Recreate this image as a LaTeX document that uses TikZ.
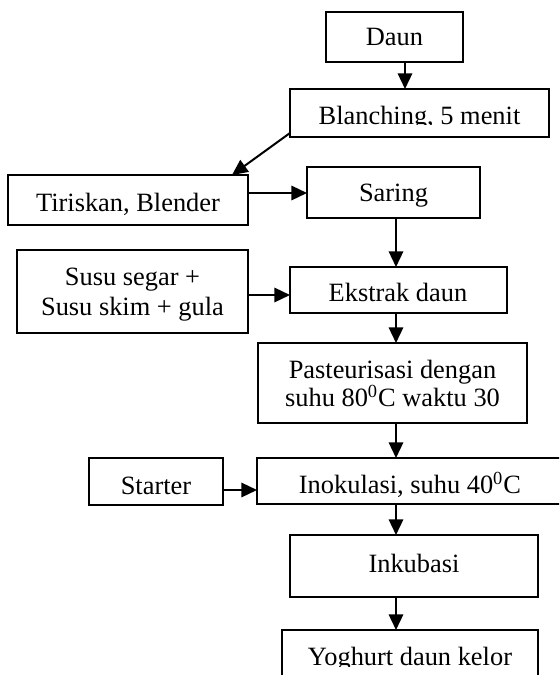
\documentclass[tikz,border=0pt]{standalone}
\usepackage{fontspec}
\setmainfont{Liberation Serif}
\usetikzlibrary{arrows.meta}
\begin{document}
\begin{tikzpicture}[x=0.5pt,y=-0.5pt,
  box/.style={draw, line width=0.75pt, rectangle, inner sep=0pt, outer sep=0pt},
  lbl/.style={anchor=base, inner sep=0pt, outer sep=0pt, font=\fontsize{13.2}{15}\selectfont},
  arr/.style={line width=1pt, -{Triangle[length=7.8pt,width=7.2pt]}}]
\clip (0,0) rectangle (559,675);
% boxes
\node[box, minimum width=68.5pt, minimum height=25pt]   (daun)    at (394.5,37)  {};
\node[box, minimum width=129.5pt, minimum height=24pt]  (blanch)  at (419.5,113) {};
\node[box, minimum width=120pt, minimum height=25pt]    (tiris)   at (128,200)   {};
\node[box, minimum width=86.5pt, minimum height=25.5pt] (saring)  at (393.5,192.5) {};
\node[box, minimum width=115.5pt, minimum height=41.5pt] (susu)   at (132.5,291.5) {};
\node[box, minimum width=108.5pt, minimum height=23pt]  (ekstrak) at (398.5,290) {};
\node[box, minimum width=134.5pt, minimum height=40pt]  (pasteur) at (392.5,383) {};
\node[box, minimum width=67pt, minimum height=23.5pt]   (starter) at (156,481.5) {};
\node[box, minimum width=153pt, minimum height=23pt]    (inok)    at (410,481)   {};
\node[box, minimum width=124pt, minimum height=31pt]    (inkub)   at (414,566)   {};
\node[box, minimum width=128pt, minimum height=35pt]    (yog)     at (410,665)   {};
% texts
\node[lbl] (daun-t) at (394.5,45) {Daun};
\begin{scope}
\clip (290,89) rectangle (549,124.8);
\node[lbl] (blanch-t) at (419.5,124) {Blanching, 5 menit};
\end{scope}
\node[lbl] (tiris-t) at (128,211.5) {Tiriskan, Blender};
\node[lbl] (saring-t) at (393.5,201.5) {Saring};
\node[lbl] (susu-t1) at (132.5,285) {Susu segar +};
\node[lbl] (susu-t2) at (132.5,315) {Susu skim + gula};
\node[lbl] (ekstrak-t) at (398,301.5) {Ekstrak daun};
\node[lbl] (pasteur-t1) at (392.5,378.3) {Pasteurisasi dengan};
\node[lbl] (pasteur-t2) at (392.5,406.7) {suhu 80\textsuperscript{0}C waktu 30};
\node[lbl] (starter-t) at (156,494) {Starter};
\node[lbl] (inok-t) at (410,493.3) {Inokulasi, suhu 40\textsuperscript{0}C};
\node[lbl] (inkub-t) at (414,572.7) {Inkubasi};
\begin{scope}
\clip (282,630) rectangle (538,666);
\node[lbl] (yog-t) at (410,665) {Yoghurt daun kelor};
\end{scope}
% connector guides
\coordinate (c1) at (405,0);
\coordinate (c2) at (396,0);
\coordinate (c3) at (232,0);
\coordinate (r1) at (0,193);
\coordinate (r2) at (0,295);
\coordinate (r3) at (0,490);
% connectors
\draw[arr] (daun.south -| c1) -- (blanch.north -| c1);
\draw[arr] ([yshift=2pt]blanch.south west) -- (tiris.north -| c3);
\draw[arr] (tiris.east |- r1) -- (saring.west |- r1);
\draw[arr] (saring.south -| c2) -- (ekstrak.north -| c2);
\draw[arr] (susu.east |- r2) -- (ekstrak.west |- r2);
\draw[arr] (ekstrak.south -| c2) -- (pasteur.north -| c2);
\draw[arr] (pasteur.south -| c2) -- (inok.north -| c2);
\draw[arr] (starter.east |- r3) -- (inok.west |- r3);
\draw[arr] (inok.south -| c2) -- (inkub.north -| c2);
\draw[arr] (inkub.south -| c2) -- (yog.north -| c2);
\end{tikzpicture}
\end{document}
